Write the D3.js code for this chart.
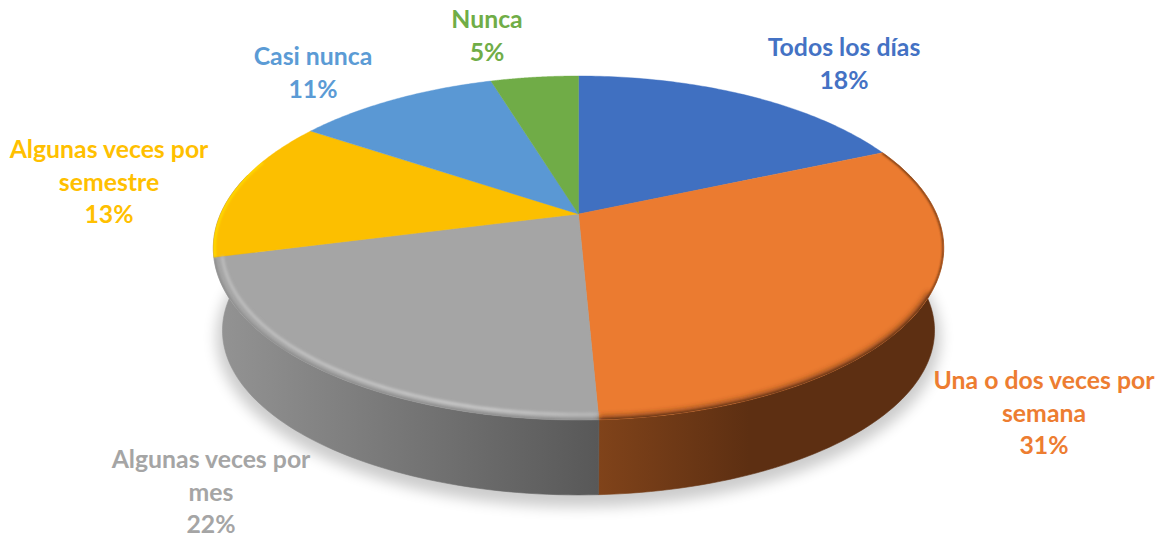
<!DOCTYPE html>
<html><head><meta charset="utf-8">
<style>html,body{margin:0;background:#fff}svg{display:block}text{font-family:Lato,"Open Sans",sans-serif;font-weight:700;text-anchor:middle}</style>
<script src="https://cdn.jsdelivr.net/npm/d3@7/dist/d3.min.js"></script>
</head><body><svg id="c" width="1170" height="540"></svg>
<script>
const categories=["Todos los días","Una o dos veces por semana","Algunas veces por mes","Algunas veces por semestre","Casi nunca","Nunca"];
const values=[18.45,30.82,21.73,13.4,10.9,4.7];
const percentLabels=["18%","31%","22%","13%","11%","5%"];
const labelLines=[["Todos los días"],["Una o dos veces por","semana"],["Algunas veces por","mes"],["Algunas veces por","semestre"],["Casi nunca"],["Nunca"]];
const colors=["#4070c1","#eb7b30","#a5a5a5","#fcbf00","#5a98d4","#70ac47"];
const labelColors=["#4472c4","#ed7d31","#a5a5a5","#ffc000","#5b9bd5","#70ad47"];
const labelCentres=[[844,48],[1044,381],[211,460],[109,150],[313,57],[487,20]];

const svg=d3.select("#c"),defs=svg.append("defs");
const blur=(id,s)=>defs.append("filter").attr("id",id).attr("x","-10%").attr("y","-10%").attr("width","120%").attr("height","130%").append("feGaussianBlur").attr("stdDeviation",s);
blur("b8",7);blur("b3",3);blur("b1",1.4);blur("b07",.8);

const upper={cx:578.5,cy:214,a:358,b:165.3,p:0.1977};
const lower={cx:578.5,cy:298,a:349,b:158,p:0.1977};
function proj(g,th,r=1){const u=r*Math.sin(th),v=r*Math.cos(th),w=1+g.p*v;return [g.cx+g.a*u/w,g.cy-g.b*v/w];}
const arcs=d3.pie().sort(null).value(d=>d).startAngle(0).endAngle(2*Math.PI)(values);
const line=d3.line();
const sample=(s,e)=>d3.range(0,81).map(i=>s+(e-s)*i/80);
const rim=(g,s,e,r=1)=>sample(s,e).map(t=>proj(g,t,r));
const all=rim(upper,0,2*Math.PI);
const [ , orange, gray, yellow]=arcs;

// soft ground shadow
svg.append("path").attr("d",line(rim({...lower,cy:lower.cy+6,a:lower.a+6,b:lower.b+5},0,2*Math.PI))+"Z")
   .attr("fill","#000").attr("opacity",.2).attr("filter","url(#b8)");

// side walls (only the two front slices show one)
function wall(id,s,e,x0,x1,c0,c1){
  const g=defs.append("linearGradient").attr("id",id).attr("gradientUnits","userSpaceOnUse")
    .attr("x1",x0).attr("x2",x1).attr("y1",0).attr("y2",0);
  g.append("stop").attr("offset",0).attr("stop-color",c0);
  g.append("stop").attr("offset",1).attr("stop-color",c1);
  const pts=rim(upper,s,e).concat(rim(lower,s,e).reverse());
  svg.append("path").attr("d",line(pts)+"Z").attr("fill",`url(#${id})`).attr("stroke",`url(#${id})`).attr("stroke-width",.6);
}
const split=proj(upper,gray.startAngle)[0];
wall("wo",orange.startAngle,orange.endAngle,split,split+150,"#80431a","#5d2f12");
wall("wg",gray.startAngle,gray.endAngle+.5,split-380,split,"#939393","#585858");

// top face
defs.append("clipPath").attr("id","faceClip").append("path").attr("d",line(all)+"Z");
const faces=svg.append("g");
arcs.forEach((d,i)=>{
  const pts=[proj(upper,0,0)].concat(rim(upper,d.startAngle,d.endAngle));
  faces.append("path").attr("d",line(pts)+"Z").attr("fill",colors[i]).attr("stroke",colors[i]).attr("stroke-width",.4);
});

// bevel on the visible rim
const hl=defs.append("linearGradient").attr("id","hl").attr("gradientUnits","userSpaceOnUse")
  .attr("x1",split-380).attr("x2",split).attr("y1",0).attr("y2",0);
hl.append("stop").attr("offset",0).attr("stop-color","#c4c4c4");
hl.append("stop").attr("offset",.7).attr("stop-color","#d4d4d4");
hl.append("stop").attr("offset",1).attr("stop-color","#bdbdbd");
const bevel=svg.append("g").attr("clip-path","url(#faceClip)");
const sc=gray.startAngle;
bevel.append("path").attr("d",line(rim(upper,orange.startAngle,sc)))
  .attr("fill","none").attr("stroke","#5d2f12").attr("stroke-width",2.2).attr("filter","url(#b07)");
bevel.append("path").attr("d",line(rim(upper,(orange.startAngle+sc)/2-.1,sc)))
  .attr("fill","none").attr("stroke","#5d2f12").attr("stroke-width",5).attr("filter","url(#b3)");
bevel.append("path").attr("d",line(rim(upper,sc,gray.endAngle)))
  .attr("fill","none").attr("stroke","#858585").attr("stroke-width",2.6).attr("filter","url(#b1)");
bevel.append("path").attr("d",line(rim(upper,sc,gray.endAngle,.978)))
  .attr("fill","none").attr("stroke","url(#hl)").attr("stroke-width",2.4).attr("filter","url(#b1)");
bevel.append("path").attr("d",line(rim(upper,yellow.startAngle,yellow.endAngle-.25,.997)))
  .attr("fill","none").attr("stroke","#ffdc00").attr("stroke-width",2.5).attr("filter","url(#b07)");

// labels
const lh=32.5;
categories.forEach((c,i)=>{
  const [x,y]=labelCentres[i];
  const g=svg.append("g").attr("fill",labelColors[i]).style("font-size","24.8px");
  labelLines[i].concat(percentLabels[i]).forEach((t,k)=>{
    g.append("text").attr("x",x).attr("y",y+8+k*lh).text(t);
  });
});
</script></body></html>
